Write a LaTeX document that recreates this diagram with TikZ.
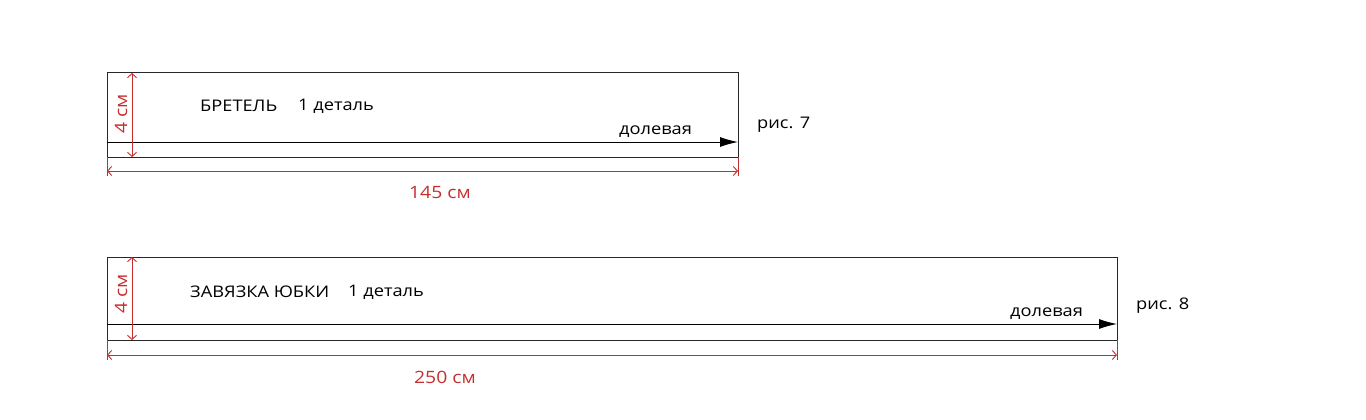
\documentclass[tikz,border=0pt]{standalone}
\usepackage{fontspec}
\setmainfont{Open Sans}[FakeStretch=1.14]
\usetikzlibrary{arrows.meta}
\definecolor{dimred}{RGB}{200,45,45}
\definecolor{edge}{RGB}{40,40,40}
\tikzset{
  piece/.style={draw=edge, line width=1pt},
  dimline/.style={draw=dimred, line width=0.9pt, {Straight Barb[length=4pt,width=9pt]}-{Straight Barb[length=4pt,width=9pt]}},
  extline/.style={draw=dimred, line width=0.9pt},
  grain/.style={draw=black, line width=1pt, -{Latex[length=18pt,width=10pt]}},
  lbl/.style={font=\fontsize{16}{19}\selectfont, text=black, inner sep=0pt},
  dimlbl/.style={font=\fontsize{17}{20}\selectfont, text=dimred, inner sep=0pt},
}
\begin{document}
\begin{tikzpicture}[x=1pt,y=-1pt]
\useasboundingbox (0,0) rectangle (1366,420);
% ---------- piece 1 ----------
\coordinate (a1) at (107,73);
\coordinate (b1) at (738,157);
\coordinate (l1) at (107,142);
\coordinate (r1) at (738,142);
\draw[piece] (a1) rectangle (b1);
\draw[grain] (l1) -- (r1);
\coordinate (vt1) at (132,73);
\coordinate (vb1) at (132,157);
\draw[dimline] (vt1) -- (vb1);
\node[dimlbl, rotate=90] (h1) at (121,114) {4 см};
\coordinate (el1) at (107,157);
\coordinate (el1b) at (107,176);
\coordinate (er1) at (738,157);
\coordinate (er1b) at (738,176);
\draw[extline] (el1) -- (el1b);
\draw[extline] (er1) -- (er1b);
\coordinate (dl1) at (107,171);
\coordinate (dr1) at (738,171);
\draw[dimline] (dl1) -- (dr1);
\node[dimlbl] (w1) at (440,192) {145 см};
\node[lbl, anchor=west] (t1) at (200,106) {БРЕТЕЛЬ};
\node[lbl, anchor=west] (n1) at (298,106) {1 деталь};
\node[lbl, anchor=west] (g1) at (619,132) {долевая};
\node[lbl, anchor=west] (f1) at (757,125) {рис. 7};
% ---------- piece 2 ----------
\coordinate (a2) at (107,257);
\coordinate (b2) at (1117,340);
\coordinate (l2) at (107,324);
\coordinate (r2) at (1117,324);
\draw[piece] (a2) rectangle (b2);
\draw[grain] (l2) -- (r2);
\coordinate (vt2) at (132,257);
\coordinate (vb2) at (132,340);
\draw[dimline] (vt2) -- (vb2);
\node[dimlbl, rotate=90] (h2) at (121,294) {4 см};
\coordinate (el2) at (107,340);
\coordinate (el2b) at (107,360);
\coordinate (er2) at (1117,340);
\coordinate (er2b) at (1117,360);
\draw[extline] (el2) -- (el2b);
\draw[extline] (er2) -- (er2b);
\coordinate (dl2) at (107,355);
\coordinate (dr2) at (1117,355);
\draw[dimline] (dl2) -- (dr2);
\node[dimlbl] (w2) at (445,377) {250 см};
\node[lbl, anchor=west] (t2) at (190,292) {ЗАВЯЗКА ЮБКИ};
\node[lbl, anchor=west] (n2) at (348,292) {1 деталь};
\node[lbl, anchor=west] (g2) at (1010,314) {долевая};
\node[lbl, anchor=west] (f2) at (1136,306) {рис. 8};
\end{tikzpicture}
\end{document}
